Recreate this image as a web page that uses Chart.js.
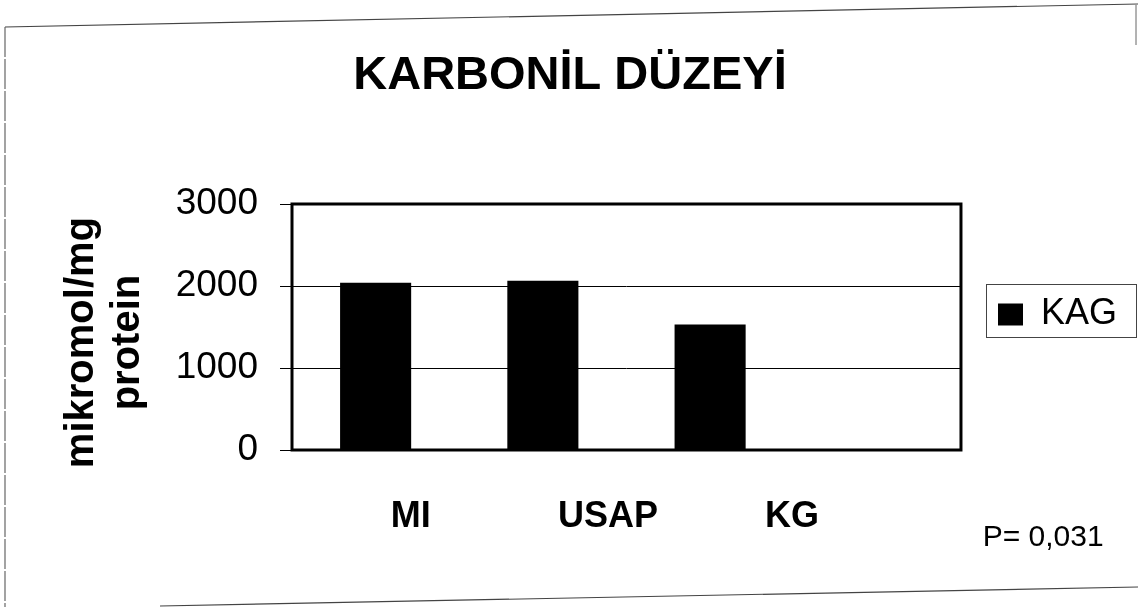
<!DOCTYPE html>
<html>
<head>
<meta charset="utf-8">
<script src="https://cdn.jsdelivr.net/npm/chart.js@4.4.1/dist/chart.umd.min.js"></script>
<style>
  html, body { margin: 0; padding: 0; background: #fff; }
  #wrap { position: relative; width: 1138px; height: 607px; }
  #frame { position: absolute; left: 0; top: 0; pointer-events: none; }
  canvas { position: absolute; left: 0; top: 0; }
</style>
</head>
<body>
<div id="wrap">
  <svg id="frame" width="1138" height="607">
    <line x1="5" y1="27" x2="1138" y2="4" stroke="#444" stroke-width="1.2"/>
    <line x1="5" y1="27" x2="5" y2="607" stroke="#666" stroke-width="1.2" stroke-dasharray="30 2"/>
    <line x1="160" y1="606" x2="1138" y2="587" stroke="#444" stroke-width="1.2"/>
    <line x1="1136" y1="5" x2="1136" y2="45" stroke="#666" stroke-width="1"/>
  </svg>
  <canvas id="c" width="1138" height="607"></canvas>
</div>
<script>
// ---- data ----
const categories = ['MI', 'USAP', 'KG'];
const values = [2040, 2065, 1530];
const seriesName = 'KAG';
const yTickValues = [0, 1000, 2000, 3000];
const chartTitle = 'KARBONİL DÜZEYİ';
const yAxisTitle = ['mikromol/mg', 'protein'];
const pNote = 'P= 0,031';
// where each category label sits along the x axis (in bar-index units)
const xLabelAt = [0.21, 1.39, 2.49];

const FONT = "'Liberation Sans', Arial, sans-serif";

const framePlugin = {
  id: 'plotFrame',
  afterDatasetsDraw(chart) {
    const a = chart.chartArea, ctx = chart.ctx;
    ctx.save();
    ctx.strokeStyle = '#000';
    ctx.lineWidth = 3;
    ctx.strokeRect(a.left, a.top, a.right - a.left, a.bottom - a.top);
    ctx.restore();
  }
};
const legendFramePlugin = {
  id: 'legendFrame',
  afterDraw(chart) {
    const lg = chart.legend;
    if (!lg || !lg.legendHitBoxes || !lg.legendHitBoxes.length) return;
    const hb = lg.legendHitBoxes[0];
    const ctx = chart.ctx;
    ctx.save();
    ctx.strokeStyle = '#444';
    ctx.lineWidth = 1;
    const x0 = Math.round(lg.left) + 0.5, y0 = Math.round(hb.top - 13) + 0.5;
    const y1 = Math.round(hb.top + hb.height + 4) + 0.5;
    ctx.strokeRect(x0, y0, chart.width - 1.5 - x0, y1 - y0);
    ctx.restore();
  }
};

new Chart(document.getElementById('c'), {
  type: 'bar',
  data: {
    datasets: [{
      label: seriesName,
      data: categories.map((c, i) => ({ x: i, y: values[i] })),
      backgroundColor: '#000',
      borderWidth: 0,
      barPercentage: 0.425,
      categoryPercentage: 1.0
    }]
  },
  options: {
    responsive: false,
    animation: false,
    layout: { padding: { top: 22, left: 13, right: 11, bottom: 0 } },
    plugins: {
      tooltip: { enabled: false },
      title: {
        display: true,
        text: chartTitle,
        color: '#000',
        font: { family: FONT, size: 47, weight: 'bold', lineHeight: 1.2 },
        padding: { top: 26, bottom: 99.6 }
      },
      subtitle: {
        display: true,
        position: 'bottom',
        align: 'end',
        text: pNote + '\u2002 ',
        color: '#000',
        font: { family: FONT, size: 30, weight: 'normal', lineHeight: 0.6 },
        padding: { top: 1.4, bottom: 60 }
      },
      legend: {
        display: true,
        position: 'right',
        labels: {
          boxWidth: 25,
          boxHeight: 22,
          padding: 12,
          color: '#000',
          font: { family: FONT, size: 36, weight: 'normal' }
        }
      }
    },
    scales: {
      x: {
        type: 'linear',
        offset: false,
        min: -0.5,
        max: 3.5,
        grid: { display: false, drawTicks: false, offset: false },
        border: { display: false },
        afterBuildTicks(scale) { scale.ticks = xLabelAt.map(v => ({ value: v })); },
        afterFit(scale) { scale.height = 77.6; },
        ticks: {
          padding: 56,
          autoSkip: false,
          maxRotation: 0,
          color: '#000',
          font: { family: FONT, size: 36, weight: 'bold', lineHeight: 0.6 },
          callback: (v, i) => categories[i]
        }
      },
      y: {
        type: 'linear',
        min: 0,
        max: 3000,
        afterBuildTicks(scale) { scale.ticks = yTickValues.map(v => ({ value: v })); },
        afterFit(scale) { scale.width = 279; },
        grid: { color: '#000', lineWidth: 1, tickLength: 12, drawTicks: true },
        border: { display: false },
        ticks: {
          padding: 22,
          color: '#000',
          font: { family: FONT, size: 37, weight: 'normal' },
          callback: v => String(v)
        },
        title: {
          display: true,
          text: yAxisTitle.map(s => s + '\u2002 '),
          color: '#000',
          font: { family: FONT, size: 40, weight: 'bold', lineHeight: 1.15 },
          padding: { top: 46, bottom: 0 }
        }
      },
      y2: {
        type: 'linear',
        position: 'right',
        display: true,
        grid: { display: false, drawTicks: false },
        border: { display: false },
        ticks: { display: false },
        afterFit(scale) { scale.width = 25; }
      }
    }
  },
  plugins: [framePlugin, legendFramePlugin]
});
</script>
</body>
</html>
